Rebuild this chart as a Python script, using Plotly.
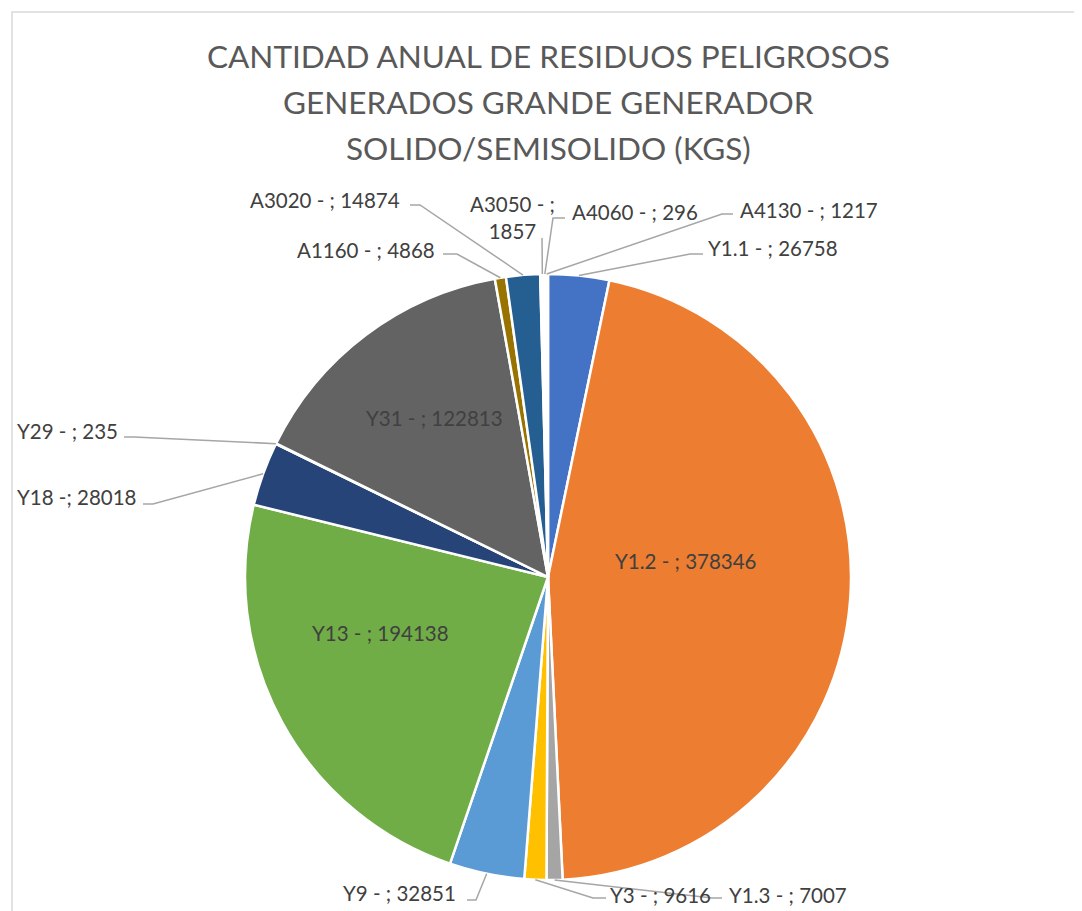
import math
import plotly.graph_objects as go

# ---------------- data ----------------
categories = ["Y1.1", "Y1.2", "Y1.3", "Y3", "Y9", "Y13", "Y18", "Y29", "Y31",
              "A1160", "A3020", "A3050", "A4060", "A4130"]
values = [26758, 378346, 7007, 9616, 32851, 194138, 28018, 235, 122813,
          4868, 14874, 1857, 296, 1217]
label_texts = ["Y1.1 - ; 26758", "Y1.2 - ; 378346", "Y1.3 - ; 7007", "Y3 - ; 9616",
               "Y9 - ; 32851", "Y13 - ; 194138", "Y18 -; 28018", "Y29 - ; 235",
               "Y31 - ; 122813", "A1160 - ; 4868", "A3020 - ; 14874",
               "A3050 - ;<br>1857", "A4060 - ; 296", "A4130 - ; 1217"]
title_lines = ["CANTIDAD ANUAL DE RESIDUOS PELIGROSOS",
               "GENERADOS GRANDE GENERADOR",
               "SOLIDO/SEMISOLIDO (KGS)"]

# ---------------- style / layout ----------------
colors = ["#4472C4", "#ED7D31", "#A5A5A5", "#FFC000", "#5B9BD5", "#70AD47",
          "#264478", "#9E480E", "#636363", "#997300", "#255E91", "#FFFFFF",
          "#FFFFFF", "#FFFFFF"]
OFF = 8                              # page body margin in the browser
W, H = 1082 - OFF, 911 - OFF         # figure size
CX, CY, R = 548, 577, 303            # pie geometry in page pixels
FONT = "Lato, 'Open Sans', Roboto, sans-serif"
LABEL_COLOR = "#404040"
LINE_COLOR = "#A6A6A6"

# label anchor (x, y, xanchor) in page pixels
label_pos = {
    "Y1.1": (706, 248, "left"),
    "Y1.2": (686, 561, "center"),
    "Y1.3": (727, 895, "left"),
    "Y3": (608, 895, "left"),
    "Y9": (458, 893, "right"),
    "Y13": (380, 633, "center"),
    "Y18": (15, 497, "left"),
    "Y29": (15, 431, "left"),
    "Y31": (434, 418, "center"),
    "A1160": (437, 250, "right"),
    "A3020": (402, 200, "right"),
    "A3050": (512, 217, "center"),
    "A4060": (570, 212, "left"),
    "A4130": (738, 210, "left"),
}
# leader-line start points near the labels (page pixels); the end is the slice edge
leader_start = {
    "Y1.1": [(703, 254), (690, 254)],
    "Y1.3": [(722, 898), (712, 898)],
    "Y3": [(606, 898), (593, 898)],
    "Y9": [(467, 900), (476, 900)],
    "Y18": [(143, 504), (153, 504)],
    "Y29": [(124, 437), (134, 437)],
    "A1160": [(443, 254), (457, 254)],
    "A3020": [(410, 205), (420, 205)],
    "A3050": [(542, 238)],
    "A4060": [(565, 218), (553, 218)],
    "A4130": [(733, 214), (722, 214)],
}


def px(x, y):
    return (x - OFF) / W, 1 - (y - OFF) / H


total = float(sum(values))
mid_angles = {}
acc = 0.0
for c, v in zip(categories, values):
    mid_angles[c] = (acc + v / 2) / total * 360.0
    acc += v

x0, y1 = px(CX - R, CY - R)
x1, y0 = px(CX + R, CY + R)

fig = go.Figure()
fig.add_trace(go.Pie(
    labels=categories, values=values, sort=False, direction="clockwise",
    rotation=0, textinfo="none", hoverinfo="label+value",
    marker=dict(colors=colors, line=dict(color="white", width=2.5)),
    domain=dict(x=[x0, x1], y=[y0, y1]),
    showlegend=False,
))

shapes = []
# chart border
bx0, by1 = px(12, 12)
shapes.append(dict(type="rect", xref="paper", yref="paper",
                   x0=bx0, x1=1.02, y0=-0.02, y1=by1,
                   line=dict(color="#D9D9D9", width=1.5), fillcolor="rgba(0,0,0,0)"))

for c, pts in leader_start.items():
    a = math.radians(mid_angles[c])
    ex, ey = CX + R * math.sin(a), CY - R * math.cos(a)
    allpts = pts + [(ex, ey)]
    path = ""
    for i, (x, y) in enumerate(allpts):
        X, Y = px(x, y)
        path += ("M" if i == 0 else " L") + f" {X:.5f},{Y:.5f}"
    shapes.append(dict(type="path", xref="paper", yref="paper", path=path,
                       line=dict(color=LINE_COLOR, width=1.5)))

annotations = []
for i, line in enumerate(title_lines):
    X, Y = px(548, 56 + i * 46)
    annotations.append(dict(text=line, x=X, y=Y, xref="paper", yref="paper",
                            xanchor="center", yanchor="middle", showarrow=False,
                            font=dict(family=FONT, size=31.5, color="#595959")))

for c, t in zip(categories, label_texts):
    x, y, anc = label_pos[c]
    X, Y = px(x, y)
    annotations.append(dict(text=t, x=X, y=Y, xref="paper", yref="paper",
                            xanchor=anc, yanchor="middle", showarrow=False,
                            align="center",
                            font=dict(family=FONT, size=20.5, color=LABEL_COLOR)))

fig.update_layout(
    width=W, height=H, margin=dict(l=0, r=0, t=0, b=0),
    paper_bgcolor="white", plot_bgcolor="white",
    shapes=shapes, annotations=annotations,
)

fig.write_html("out.html")
